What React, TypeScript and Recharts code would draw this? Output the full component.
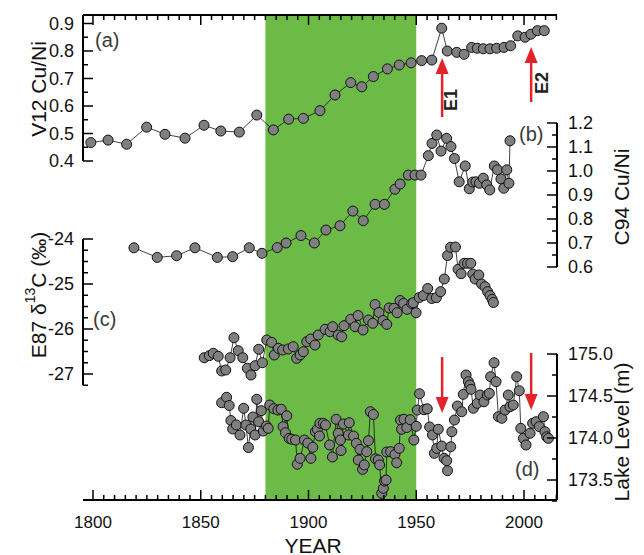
import React from 'react';
import { ComposedChart, Line, XAxis, YAxis, ReferenceArea, ReferenceLine, ReferenceDot } from 'recharts';

// ---------------- data ----------------
const yearLabels = [1800, 1850, 1900, 1950, 2000];
const yearTicks = Array.from({ length: 44 }, (_, i) => 1800 + i * 5);

// (a) V12 Cu/Ni
const v12CuNi: [number, number][] = [
  [1799, 0.467], [1807, 0.476], [1815.6, 0.461], [1824.9, 0.523], [1833.4, 0.497], [1842.7, 0.483],
  [1851.5, 0.53], [1859.3, 0.509], [1867.9, 0.505], [1876, 0.567], [1883.7, 0.513], [1890.8, 0.552],
  [1897.6, 0.555], [1905.3, 0.583], [1912.3, 0.64], [1919.6, 0.685], [1924.7, 0.67], [1930.1, 0.707],
  [1936.6, 0.735], [1942.1, 0.749], [1947.6, 0.757], [1952.5, 0.765], [1957.2, 0.767], [1961.8, 0.883],
  [1964.4, 0.8], [1968.8, 0.795], [1972.2, 0.788], [1975.7, 0.813], [1978.3, 0.81], [1981.1, 0.808],
  [1984.2, 0.808], [1987.3, 0.81], [1990.7, 0.813], [1993.8, 0.819], [1997.1, 0.855], [2000.5, 0.85],
  [2003.2, 0.861], [2006.2, 0.874], [2009.4, 0.874],
];

// (b) C94 Cu/Ni
const c94CuNi: [number, number][] = [
  [1819, 0.68], [1829.8, 0.64], [1838.8, 0.647], [1847.3, 0.68], [1857.7, 0.64], [1864.8, 0.643],
  [1872.5, 0.68], [1878.4, 0.657], [1885.5, 0.681], [1889.6, 0.7], [1896.5, 0.731], [1902.7, 0.7],
  [1908.1, 0.754], [1914.6, 0.772], [1920.6, 0.833], [1925.4, 0.793], [1930.9, 0.861], [1935.2, 0.861],
  [1940.1, 0.924], [1942.5, 0.946], [1946.3, 0.983], [1949.4, 0.983], [1952.2, 0.983], [1955.6, 1.064],
  [1957.3, 1.115], [1959.5, 1.15], [1961.5, 1.083], [1964.1, 1.136], [1966.1, 1.102], [1967.7, 1.052],
  [1969.9, 0.955], [1972.7, 1.021], [1974.6, 0.926], [1976.2, 0.954], [1977.7, 0.955], [1979.3, 0.949],
  [1981.1, 0.97], [1982.7, 0.942], [1984.1, 0.921], [1986.2, 1.021], [1987.7, 1.005], [1989.3, 0.967],
  [1990.6, 0.928], [1992, 1.005], [1993, 0.949], [1993.5, 1.126],
];

// (c) E87 d13C
const e87d13C: [number, number][] = [
  [1851.6, -26.638], [1854, -26.593], [1855.8, -26.54], [1858.1, -26.607], [1859.7, -26.933], [1861.6, -26.911],
  [1863.6, -26.638], [1865.4, -26.193], [1867.4, -26.482], [1869.5, -26.638], [1871.6, -26.873], [1873.3, -27.022],
  [1875.2, -26.816], [1876.9, -26.451], [1878.6, -26.749], [1880.6, -26.244], [1882.9, -26.296], [1884.1, -26.578],
  [1886, -26.429], [1888, -26.467], [1890.6, -26.444], [1892.9, -26.393], [1894.5, -26.651], [1896.1, -26.578],
  [1897.6, -26.504], [1899.2, -26.282], [1901, -26.222], [1903, -26.356], [1904.5, -26.133], [1907.7, -26.007],
  [1910, -26.06], [1911.2, -25.949], [1913.8, -26.133], [1915.4, -26.171], [1916.5, -25.927], [1919.6, -25.784],
  [1921.6, -25.949], [1923, -25.7], [1925.3, -26.022], [1927.8, -25.8], [1929.8, -25.873], [1930.9, -25.456],
  [1932.7, -25.633], [1934.6, -25.811], [1936.3, -25.896], [1937.4, -25.533], [1939.7, -25.54], [1941.1, -25.638],
  [1942.5, -25.367], [1944.1, -25.433], [1945.7, -25.562], [1947.9, -25.433], [1948.6, -25.416], [1949.9, -25.638],
  [1951.4, -25.3], [1953.3, -25.256], [1955.3, -25.1], [1957.2, -25.322], [1959.3, -25.304], [1961.3, -25.171],
  [1963, -24.889], [1964.5, -24.367], [1965.9, -24.184], [1968.2, -24.178], [1969.4, -24.673], [1970.8, -24.771],
  [1972.2, -24.54], [1973.8, -24.54], [1975.3, -24.54], [1976.2, -24.778], [1977.3, -24.889], [1979, -24.8],
  [1980.3, -25.0], [1981.9, -25.06], [1983.1, -25.171], [1984.2, -25.256], [1985.2, -25.34], [1985.8, -25.411],
];

// (d) Lake level (m)
const lakeLevel: [number, number][] = [
  [1859.7, 174.42], [1862, 174.485], [1863.2, 174.387], [1864, 174.208], [1864.8, 174.107], [1866.5, 174.155],
  [1868.2, 174.036], [1869.9, 174.354], [1871, 174.155], [1872.1, 173.887], [1873.2, 174.107], [1874.2, 174.25],
  [1875.2, 174.036], [1876, 174.461], [1876.9, 174.194], [1878.1, 174.325], [1879, 174.083], [1880.5, 174.143],
  [1881.3, 174.115], [1882, 174.393], [1883.9, 174.349], [1885.8, 174.333], [1887.3, 174.342], [1888.2, 174.135],
  [1889.3, 174.063], [1889.9, 174.264], [1891, 173.996], [1892.2, 173.985], [1894, 173.976], [1894.8, 173.688],
  [1896.1, 173.758], [1898.1, 173.976], [1899.7, 173.94], [1901.1, 173.758], [1902, 173.889], [1903.2, 174.075],
  [1904.1, 174.104], [1905.1, 174.024], [1905.3, 174.175], [1906.9, 174.175], [1907.9, 174.155], [1909.8, 173.917],
  [1911.1, 173.774], [1912.8, 174.223], [1913.8, 174.056], [1914.8, 173.976], [1915.1, 173.851], [1916.2, 174.167],
  [1918.5, 174.036], [1918.9, 174.182], [1920.9, 174.024], [1922.2, 173.937], [1923.1, 173.738], [1923.9, 173.865],
  [1925.1, 173.627], [1925.9, 173.679], [1927, 173.837], [1927.8, 173.968], [1928.7, 174.313], [1930.1, 174.28],
  [1931.1, 173.752], [1932.4, 173.738], [1933, 173.679], [1934, 173.342], [1934.7, 173.401], [1935.3, 173.488],
  [1936, 173.5], [1936.3, 173.833], [1938.1, 173.837], [1940.1, 173.804], [1940.9, 173.706], [1942.1, 173.877],
  [1942.7, 174.214], [1943.2, 174.104], [1944.3, 174.223], [1945.6, 174.125], [1947.2, 174.218], [1948.9, 173.976],
  [1950, 174.139], [1950.5, 174.333], [1951.5, 174.527], [1953.6, 174.337], [1955.1, 174.348], [1956.2, 174.131],
  [1957.5, 174.036], [1958.4, 173.818], [1959.5, 173.877], [1960.2, 174.104], [1961.8, 173.905], [1962.9, 173.758],
  [1964.1, 173.73], [1964.5, 173.611], [1966, 173.896], [1966.5, 174.075], [1967.7, 174.214], [1969.1, 174.381],
  [1971.1, 174.313], [1971.8, 174.52], [1973.1, 174.75], [1974.2, 174.67], [1974.9, 174.631], [1975.4, 174.58],
  [1976.5, 174.354], [1978.3, 174.413], [1979.6, 174.512], [1981.4, 174.432], [1983, 174.512], [1983.9, 174.532],
  [1984.5, 174.73], [1986.1, 174.896], [1987, 174.67], [1988.1, 174.254], [1989.7, 174.235], [1991.2, 174.333],
  [1992.7, 174.512], [1993.5, 174.373], [1995, 174.393], [1996.6, 174.73], [1997.8, 174.563], [1998.5, 174.115],
  [1999.7, 173.996], [2000.9, 173.917], [2002.8, 174.056], [2004, 174.175], [2005.6, 174.194], [2007.1, 174.135],
  [2009, 174.254], [2009.7, 174.075], [2010.5, 174.015], [2011.3, 173.996],
];

// events E1 / E2
const eventYears = [1962, 2003.3];
const eventLabels = ['E1', 'E2'];
const greenPeriod = [1880, 1950];

// axis ticks
const aMajor = [0.4, 0.5, 0.6, 0.7, 0.8, 0.9];
const aMinor = [0.45, 0.55, 0.65, 0.75, 0.85];
const bMajor = [0.6, 0.7, 0.8, 0.9, 1.0, 1.1, 1.2];
const bMinor = [0.65, 0.75, 0.85, 0.95, 1.05, 1.15];
const cMajor = [-24, -25, -26, -27];
const cMinor = [-24.25, -24.5, -24.75, -25.25, -25.5, -25.75, -26.25, -26.5, -26.75, -27.25];
const dMajor = [173.5, 174.0, 174.5, 175.0];
const dMinor = [173.25, 173.75, 174.25, 174.75];

// ---------------- layout ----------------
const FONT = '"Liberation Sans", Arial, Helvetica, sans-serif';
const X_DOM: [number, number] = [1795.36, 2015.3];
const A_DOM: [number, number] = [-0.8327, 0.9309];
const B_DOM: [number, number] = [-0.3708, 1.65];
const C_DOM: [number, number] = [-29.8, -19.022];
const D_DOM: [number, number] = [173.262, 179.036];
const RED = '#e3232b';
const GREEN = '#6bbb46';
const TINY = 0.001;

const toRows = (arr: [number, number][]) => arr.map(([year, v]) => ({ year, v }));
const aData = toRows(v12CuNi);
const bData = toRows(c94CuNi);
const cData = toRows(e87d13C);
const dData = toRows(lakeLevel);

const dotStyle = { r: 5, fill: '#7f7f7f', stroke: '#111', strokeWidth: 1 };

const BottomTick = (props: any) => {
  const { x, y, payload } = props;
  const v = payload.value;
  const major = yearLabels.includes(v);
  return (
    <g>
      <line x1={x} x2={x} y1={y} y2={y - (major ? 10 : 5)} stroke="#000" strokeWidth={1.5} />
      {major && (
        <text x={x} y={y + 28} textAnchor="middle" fontSize={17} fontFamily={FONT} fill="#111">
          {v}
        </text>
      )}
    </g>
  );
};

const TopTick = (props: any) => {
  const { x, y, payload } = props;
  const major = yearLabels.includes(payload.value);
  return <line x1={x} x2={x} y1={y} y2={y + (major ? 10 : 5)} stroke="#000" strokeWidth={1.5} />;
};

const makeYTick = (majors: number[], side: 'left' | 'right', digits: number) => (props: any) => {
  const { x, y, payload } = props;
  const v = payload.value;
  const isMajor = majors.some((m) => Math.abs(m - v) < 1e-6);
  const len = isMajor ? 10 : 5;
  const dir = side === 'left' ? 1 : -1;
  return (
    <g>
      <line x1={x} x2={x + dir * len} y1={y} y2={y} stroke="#000" strokeWidth={1.5} />
      {isMajor && (
        <text
          x={side === 'left' ? x - 9 : x + 11}
          y={y}
          dy="0.36em"
          textAnchor={side === 'left' ? 'end' : 'start'}
          fontSize={18}
          fontFamily={FONT}
          fill="#111"
        >
          {v.toFixed(digits)}
        </text>
      )}
    </g>
  );
};

const upHead = (props: any) => {
  const { cx, cy } = props;
  return <path d={`M${cx},${cy} L${cx - 6.5},${cy + 16} L${cx + 6.5},${cy + 16} Z`} fill={RED} />;
};
const downHead = (props: any) => {
  const { cx, cy } = props;
  return <path d={`M${cx},${cy} L${cx - 6.5},${cy - 16} L${cx + 6.5},${cy - 16} Z`} fill={RED} />;
};

export default function App() {
  return (
    <div style={{ position: 'absolute', left: 0, top: 0, width: 644, height: 555 }}>
      <ComposedChart width={644} height={555} margin={{ top: 15 - TINY, right: 87 - 2 * TINY, bottom: 55 - TINY, left: 83 - 2 * TINY }}>
        <ReferenceArea
          xAxisId="b"
          yAxisId="a"
          x1={greenPeriod[0]}
          x2={greenPeriod[1]}
          y1={A_DOM[0]}
          y2={A_DOM[1]}
          fill={GREEN}
          fillOpacity={1}
          stroke="none"
          ifOverflow="visible"
        />
        <XAxis
          xAxisId="b"
          type="number"
          dataKey="year"
          domain={X_DOM}
          allowDataOverflow
          ticks={yearTicks}
          interval={0}
          height={TINY}
          tickSize={0}
          tickMargin={0}
          tickLine={false}
          axisLine={{ stroke: '#000', strokeWidth: 2 }}
          tick={<BottomTick />}
        />
        <XAxis
          xAxisId="t"
          orientation="top"
          type="number"
          dataKey="year"
          domain={X_DOM}
          allowDataOverflow
          ticks={yearTicks}
          interval={0}
          height={TINY}
          tickSize={0}
          tickMargin={0}
          tickLine={false}
          axisLine={{ stroke: '#000', strokeWidth: 2 }}
          tick={<TopTick />}
        />
        <YAxis yAxisId="a" orientation="left" type="number" domain={A_DOM} allowDataOverflow width={TINY}
          ticks={[...aMajor, ...aMinor]} interval={0} tickSize={0} tickMargin={0} tickLine={false} axisLine={false}
          tick={makeYTick(aMajor, 'left', 1)} />
        <YAxis yAxisId="c" orientation="left" type="number" domain={C_DOM} allowDataOverflow width={TINY}
          ticks={[...cMajor, ...cMinor]} interval={0} tickSize={0} tickMargin={0} tickLine={false} axisLine={false}
          tick={makeYTick(cMajor, 'left', 0)} />
        <YAxis yAxisId="bb" orientation="right" type="number" domain={B_DOM} allowDataOverflow width={TINY}
          ticks={[...bMajor, ...bMinor]} interval={0} tickSize={0} tickMargin={0} tickLine={false} axisLine={false}
          tick={makeYTick(bMajor, 'right', 1)} />
        <YAxis yAxisId="d" orientation="right" type="number" domain={D_DOM} allowDataOverflow width={TINY}
          ticks={[...dMajor, ...dMinor]} interval={0} tickSize={0} tickMargin={0} tickLine={false} axisLine={false}
          tick={makeYTick(dMajor, 'right', 1)} />

        {/* axis spines of the individual panels */}
        <ReferenceLine xAxisId="b" yAxisId="a" ifOverflow="visible" stroke="#000" strokeWidth={2}
          segment={[{ x: X_DOM[0], y: aMajor[0] }, { x: X_DOM[0], y: A_DOM[1] }]} />
        <ReferenceLine xAxisId="b" yAxisId="bb" ifOverflow="visible" stroke="#000" strokeWidth={2}
          segment={[{ x: X_DOM[1], y: 0.6 }, { x: X_DOM[1], y: 1.2 }]} />
        <ReferenceLine xAxisId="b" yAxisId="c" ifOverflow="visible" stroke="#000" strokeWidth={2}
          segment={[{ x: X_DOM[0], y: -24 }, { x: X_DOM[0], y: -27.25 }]} />
        <ReferenceLine xAxisId="b" yAxisId="d" ifOverflow="visible" stroke="#000" strokeWidth={2}
          segment={[{ x: X_DOM[1], y: 175 }, { x: X_DOM[1], y: D_DOM[0] }]} />

        {/* event arrows */}
        <ReferenceLine xAxisId="b" yAxisId="a" ifOverflow="visible" stroke={RED} strokeWidth={2.5}
          segment={[{ x: eventYears[0], y: 0.56 }, { x: eventYears[0], y: 0.73 }]} />
        <ReferenceDot xAxisId="b" yAxisId="a" ifOverflow="visible" x={eventYears[0]} y={0.7745} shape={upHead} />
        <ReferenceLine xAxisId="b" yAxisId="a" ifOverflow="visible" stroke={RED} strokeWidth={2.5}
          segment={[{ x: eventYears[1], y: 0.6145 }, { x: eventYears[1], y: 0.77 }]} />
        <ReferenceDot xAxisId="b" yAxisId="a" ifOverflow="visible" x={eventYears[1]} y={0.8145} shape={upHead} />
        <ReferenceLine xAxisId="b" yAxisId="d" ifOverflow="visible" stroke={RED} strokeWidth={2.5}
          segment={[{ x: eventYears[0], y: 174.964 }, { x: eventYears[0], y: 174.47 }]} />
        <ReferenceDot xAxisId="b" yAxisId="d" ifOverflow="visible" x={eventYears[0]} y={174.298} shape={downHead} />
        <ReferenceLine xAxisId="b" yAxisId="d" ifOverflow="visible" stroke={RED} strokeWidth={2.5}
          segment={[{ x: eventYears[1], y: 175.012 }, { x: eventYears[1], y: 174.51 }]} />
        <ReferenceDot xAxisId="b" yAxisId="d" ifOverflow="visible" x={eventYears[1]} y={174.333} shape={downHead} />

        <Line data={aData} dataKey="v" xAxisId="b" yAxisId="a" type="linear" stroke="#111" strokeWidth={0.8}
          dot={dotStyle} activeDot={false} isAnimationActive={false} />
        <Line data={bData} dataKey="v" xAxisId="b" yAxisId="bb" type="linear" stroke="#111" strokeWidth={0.8}
          dot={dotStyle} activeDot={false} isAnimationActive={false} />
        <Line data={cData} dataKey="v" xAxisId="b" yAxisId="c" type="linear" stroke="#111" strokeWidth={0.8}
          dot={dotStyle} activeDot={false} isAnimationActive={false} />
        <Line data={dData} dataKey="v" xAxisId="b" yAxisId="d" type="linear" stroke="#111" strokeWidth={0.8}
          dot={dotStyle} activeDot={false} isAnimationActive={false} />
      </ComposedChart>

      <svg width={644} height={555} style={{ position: 'absolute', left: 0, top: 0, pointerEvents: 'none' }}>
        <g fontFamily={FONT} fill="#111">
          <text transform="translate(38,89) rotate(-90)" textAnchor="middle" dominantBaseline="central" fontSize={21}>
            V12 Cu/Ni
          </text>
          <text transform="translate(38,295) rotate(-90)" textAnchor="middle" dominantBaseline="central" fontSize={21}>
            E87 δ<tspan fontSize={14} dy={-8}>13</tspan><tspan dy={8}>C (‰)</tspan>
          </text>
          <text transform="translate(621,197) rotate(-90)" textAnchor="middle" dominantBaseline="central" fontSize={21}>
            C94 Cu/Ni
          </text>
          <text transform="translate(621,432) rotate(-90)" textAnchor="middle" dominantBaseline="central" fontSize={21}>
            Lake Level (m)
          </text>
          <text x={313} y={553} textAnchor="middle" fontSize={21}>YEAR</text>
          <text transform="translate(451,100) rotate(-90)" textAnchor="middle" dominantBaseline="central" fontSize={18} fontWeight="bold" fill="#222">
            {eventLabels[0]}
          </text>
          <text transform="translate(542,83) rotate(-90)" textAnchor="middle" dominantBaseline="central" fontSize={18} fontWeight="bold" fill="#222">
            {eventLabels[1]}
          </text>
        </g>
        <g fontFamily={FONT} fill="#3a3a3a" fontSize={20}>
          <text x={95} y={47}>(a)</text>
          <text x={519} y={141}>(b)</text>
          <text x={93} y={326}>(c)</text>
          <text x={515} y={476}>(d)</text>
        </g>
      </svg>
    </div>
  );
}
